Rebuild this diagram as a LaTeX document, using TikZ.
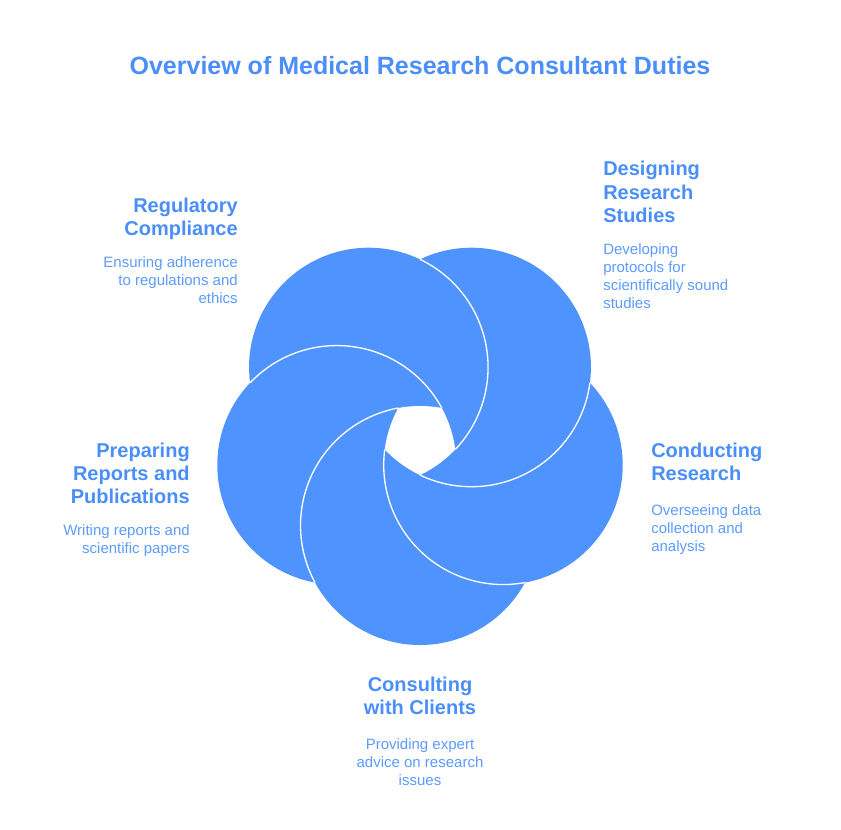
\documentclass[tikz,border=0pt]{standalone}
\usepackage{fontspec}
\setmainfont{Liberation Sans}
\usetikzlibrary{positioning}
\definecolor{petalblue}{HTML}{4F93FF}
\definecolor{headblue}{HTML}{4A8EF9}
\definecolor{textblue}{HTML}{5C9BFF}

\begin{document}
\begin{tikzpicture}[
  x=0.75pt, y=-0.75pt,
  petal/.style={fill=petalblue},
  seam/.style={draw=white,line width=1pt},
  title/.style={font=\bfseries\fontsize{18.75}{22}\selectfont,text=headblue,inner sep=0},
  head/.style={font=\bfseries\fontsize{15}{17.5}\selectfont,text=headblue,inner sep=0},
  desc/.style={font=\fontsize{11.25}{13.6}\selectfont,text=textblue,inner sep=0}
]
\useasboundingbox (0,0) rectangle (841,829);

% five overlapping discs
\foreach \p in {-126,-54,18,90,162}
  \fill[petal] (420,438) ++(\p:87.5) circle[radius=119.5];
% white seams where one disc lies over the next
\foreach \p in {-126,-54,18,90,162}
  \draw[seam] (420,438) ++(\p:87.5) ++({\p+61.5}:119.5)
    arc[start angle=\p+61.5, end angle=\p+169.5, radius=119.5];
% open centre
\begin{scope}
  \clip (420,438) ++(-126:87.5) circle[radius=119.5];
  \clip (420,438) ++(-54:87.5) circle[radius=119.5];
  \clip (420,438) ++(18:87.5) circle[radius=119.5];
  \clip (420,438) ++(90:87.5) circle[radius=119.5];
  \clip (420,438) ++(162:87.5) circle[radius=119.5];
  \fill[white] (300,320) rectangle (540,560);
\end{scope}

\node[title,anchor=north] (ttl) at (420,56) {Overview of Medical Research Consultant Duties};

\node[head,anchor=north east,align=right] (regT) at (238,197.5) {Regulatory\\Compliance};
\node[desc,anchor=north east,align=right] (regD) at (238,256.5) {Ensuring adherence\\to regulations and\\ethics};

\node[head,anchor=north west,align=left] (desT) at (603,161) {Designing\\Research\\Studies};
\node[desc,anchor=north west,align=left] (desD) at (603,243) {Developing\\protocols for\\scientifically sound\\studies};

\node[head,anchor=north west,align=left] (conT) at (651,442.5) {Conducting\\Research};
\node[desc,anchor=north west,align=left] (conD) at (651,504.5) {Overseeing data\\collection and\\analysis};

\node[head,anchor=north,align=center] (cliT) at (420,676.5) {Consulting\\with Clients};
\node[desc,anchor=north,align=center] (cliD) at (420,738.5) {Providing expert\\advice on research\\issues};

\node[head,anchor=north east,align=right] (repT) at (190,442.5) {Preparing\\Reports and\\Publications};
\node[desc,anchor=north east,align=right] (repD) at (190,524.5) {Writing reports and\\scientific papers};
\end{tikzpicture}
\end{document}
